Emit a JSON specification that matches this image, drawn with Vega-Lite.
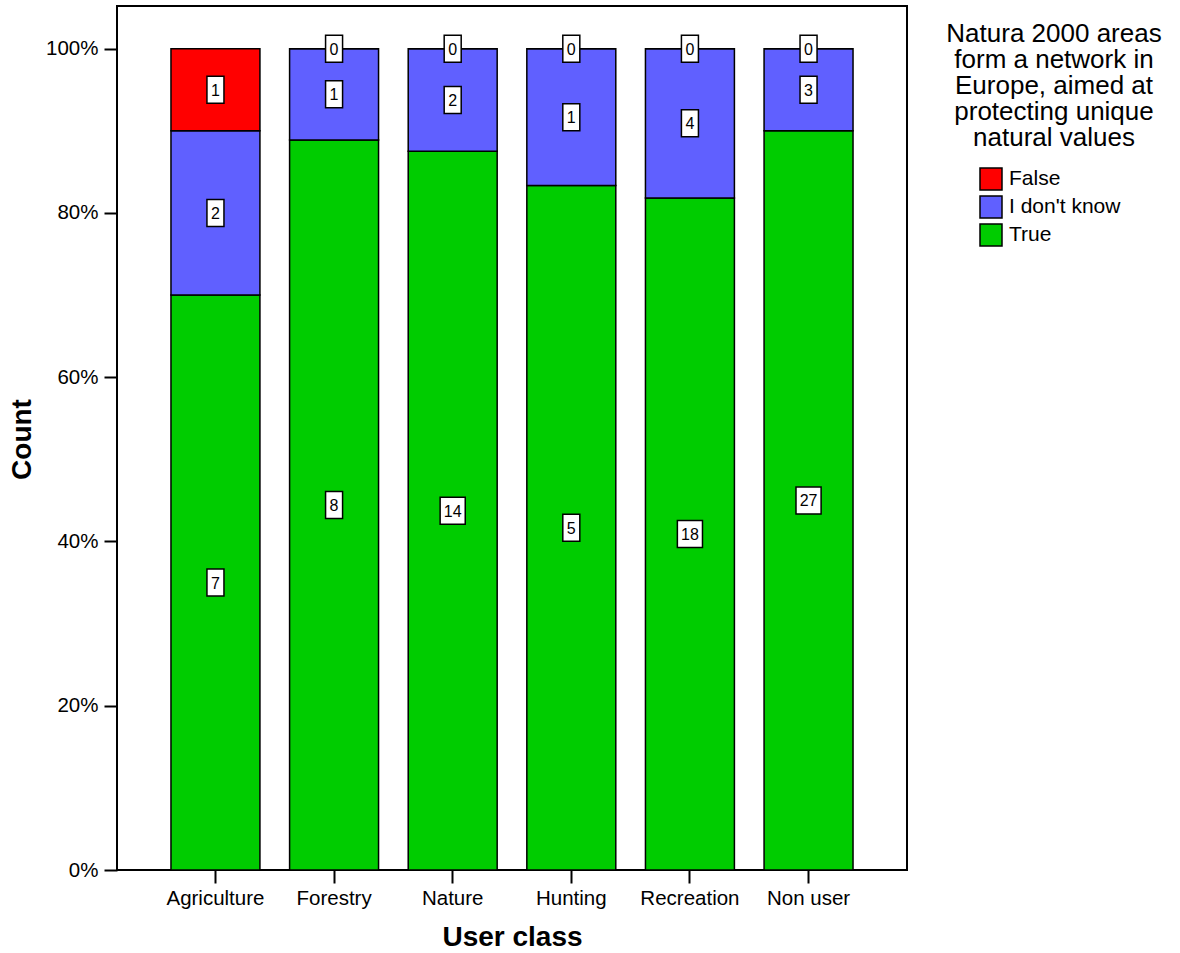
{
  "$schema": "https://vega.github.io/schema/vega-lite/v6.json",
  "autosize": {"type": "none"},
  "padding": {"left": 117, "top": 6, "right": 273, "bottom": 83},
  "width": 790,
  "height": 864,
  "config": {
    "font": "Liberation Sans",
    "view": {"stroke": "black", "strokeWidth": 2},
    "axis": {"domain": false, "grid": false, "tickColor": "black", "tickWidth": 2, "tickSize": 13, "labelColor": "black", "labelFontSize": 20.5, "labelFont": "Liberation Sans", "titleFont": "Liberation Sans", "titleFontSize": 28, "titleFontWeight": "bold", "titleColor": "black"}
  },
  "data": {
    "values": [
      {"User class": "Agriculture", "response": "True", "count": 7},
      {"User class": "Agriculture", "response": "I don't know", "count": 2},
      {"User class": "Agriculture", "response": "False", "count": 1},
      {"User class": "Forestry", "response": "True", "count": 8},
      {"User class": "Forestry", "response": "I don't know", "count": 1},
      {"User class": "Forestry", "response": "False", "count": 0},
      {"User class": "Nature", "response": "True", "count": 14},
      {"User class": "Nature", "response": "I don't know", "count": 2},
      {"User class": "Nature", "response": "False", "count": 0},
      {"User class": "Hunting", "response": "True", "count": 5},
      {"User class": "Hunting", "response": "I don't know", "count": 1},
      {"User class": "Hunting", "response": "False", "count": 0},
      {"User class": "Recreation", "response": "True", "count": 18},
      {"User class": "Recreation", "response": "I don't know", "count": 4},
      {"User class": "Recreation", "response": "False", "count": 0},
      {"User class": "Non user", "response": "True", "count": 27},
      {"User class": "Non user", "response": "I don't know", "count": 3},
      {"User class": "Non user", "response": "False", "count": 0}
    ]
  },
  "transform": [
    {"stack": "count", "groupby": ["User class"], "sort": [{"field": "response", "order": "descending"}], "offset": "normalize", "as": ["y0", "y1"]},
    {"calculate": "(datum.y0 + datum.y1) / 2", "as": "mid"}
  ],
  "encoding": {
    "x": {
      "field": "User class", "type": "nominal", "sort": null,
      "scale": {"paddingInner": 0.25, "paddingOuter": 0.455},
      "axis": {"labelAngle": 0, "labelPadding": 5, "title": "User class", "titleY": 67, "titleBaseline": "middle"}
    }
  },
  "layer": [
    {
      "mark": {"type": "bar", "stroke": "black", "strokeWidth": 1.5, "opacity": 1},
      "encoding": {
        "y": {
          "field": "y0", "type": "quantitative",
          "scale": {"domain": [0, 1.052], "nice": false, "zero": true},
          "axis": {"values": [0, 0.2, 0.4, 0.6, 0.8, 1.0], "format": ".0%", "labelPadding": 6, "title": "Count", "titleX": -95, "titleY": 433, "titleAngle": -90, "titleAlign": "center", "titleBaseline": "middle"}
        },
        "y2": {"field": "y1"},
        "color": {
          "field": "response", "type": "nominal",
          "scale": {"domain": ["False", "I don't know", "True"], "range": ["#FF0000", "#6060FF", "#00CC00"]},
          "legend": {
            "orient": "none", "legendX": 829, "legendY": 15,
            "title": ["Natura 2000 areas", "form a network in", "Europe, aimed at", "protecting unique", "natural values"],
            "titleFontSize": 26, "titleFontWeight": "normal", "titleColor": "black", "titleLineHeight": 26, "titleAlign": "center", "titleAnchor": "middle", "titleLimit": 400, "titlePadding": 16,
            "labelFontSize": 21, "labelColor": "black", "labelLimit": 300, "labelOffset": 6,
            "symbolType": "square", "symbolSize": 484, "symbolStrokeColor": "black", "symbolStrokeWidth": 1.5, "symbolOpacity": 1, "symbolOffset": -9,
            "rowPadding": 0, "padding": 0
          }
        }
      }
    },
    {
      "transform": [{"filter": "datum.count < 10"}],
      "mark": {"type": "point", "shape": "M-0.63,-1H0.63V1H-0.63Z", "size": 729, "filled": true, "fill": "white", "stroke": "black", "strokeWidth": 1.5, "opacity": 1},
      "encoding": {"y": {"field": "mid", "type": "quantitative", "title": "Count"}}
    },
    {
      "transform": [{"filter": "datum.count >= 10"}],
      "mark": {"type": "point", "shape": "M-0.93,-1H0.93V1H-0.93Z", "size": 729, "filled": true, "fill": "white", "stroke": "black", "strokeWidth": 1.5, "opacity": 1},
      "encoding": {"y": {"field": "mid", "type": "quantitative", "title": "Count"}}
    },
    {
      "mark": {"type": "text", "fontSize": 16, "color": "black", "align": "center", "baseline": "middle", "dy": 1},
      "encoding": {
        "y": {"field": "mid", "type": "quantitative", "title": "Count"},
        "text": {"field": "count", "type": "quantitative"}
      }
    }
  ]
}
